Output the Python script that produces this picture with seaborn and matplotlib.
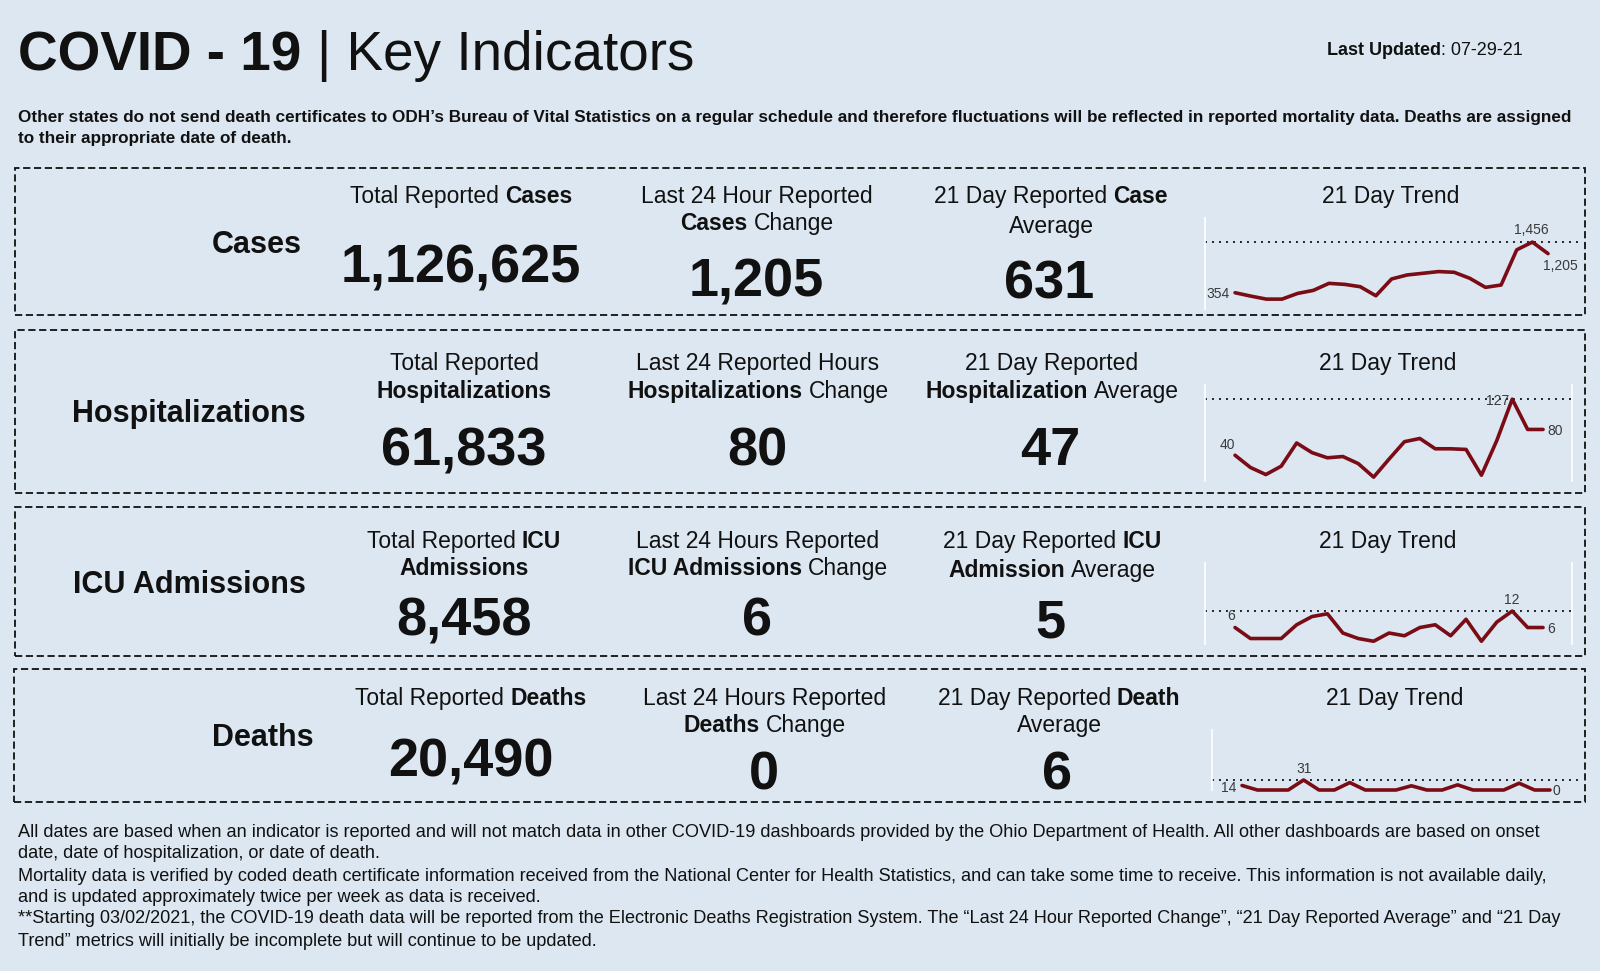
import matplotlib
matplotlib.use('Agg')
import matplotlib.pyplot as plt
import seaborn as sns
from matplotlib.patches import Rectangle

# Data (07-29-21)
indicators = ['Cases', 'Hospitalizations', 'ICU Admissions', 'Deaths']
totals = ['1,126,625', '61,833', '8,458', '20,490']
last_24h = ['1,205', '80', '6', '0']
avg_21d = ['631', '47', '5', '6']
days = list(range(1, 22))
cases_trend = [354, 281, 215, 215, 339, 405, 558, 536, 485, 288, 653, 741,
               777, 814, 799, 668, 471, 522, 1288, 1456, 1205]
hosp_trend = [40, 21, 10, 23, 59, 44, 36, 38, 27, 6, 34, 61, 66, 50, 50, 49,
              9, 63, 127, 80, 80]
icu_trend = [6, 2, 2, 2, 7, 10, 11, 4, 2, 1, 4, 3, 6, 7, 3, 9, 1, 8, 12, 6, 6]
deaths_trend = [14, 0, 0, 0, 31, 0, 0, 23, 0, 0, 0, 13, 0, 0, 16, 0, 0, 0, 21, 0, 0]

W, H = 1600, 971
BG = '#dce7f1'
TXT = '#111111'
LINE = '#7a0c16'

sns.set_style('white')
plt.rcParams['font.family'] = ['Liberation Sans', 'DejaVu Sans']

fig = plt.figure(figsize=(W / 100, H / 100), dpi=100, facecolor=BG)
renderer = fig.canvas.get_renderer()


def fpos(x, y):
    return x / W, 1 - y / H


def put(x, y, s, size, weight='normal', ha='left', color=TXT):
    # y is the visual middle of the glyphs; nudge down for the descender room
    y = y + 0.132 * size
    return fig.text(*fpos(x, y), s, fontsize=size, fontweight=weight, color=color,
                    ha=ha, va='center')


def rich(x, y, parts, size, ha='center', color=TXT):
    # parts: (text, weight); a leading space means "put a word gap before"
    objs, widths, gaps = [], [], []
    for s, w in parts:
        gap = 0
        if s.startswith(' '):
            s = s[1:]
            gap = 0.278 * size * 100 / 72
        t = put(0, 0, s, size, w, color=color)
        objs.append(t)
        widths.append(t.get_window_extent(renderer).width)
        gaps.append(gap)
    total = sum(widths) + sum(gaps)
    cur = x - total / 2 if ha == 'center' else x
    for t, wd, g in zip(objs, widths, gaps):
        cur += g
        t.set_position(fpos(cur, y + 0.132 * size))
        cur += wd


# Title
rich(18, 51, [('COVID - 19', 'bold'), (' | Key Indicators', 'normal')], 39.5, ha='left')
rich(1327, 49, [('Last Updated', 'bold'), (': 07-29-21', 'normal')], 13, ha='left')

sub = ['Other states do not send death certificates to ODH\u2019s Bureau of Vital Statistics on a regular schedule '
       'and therefore fluctuations will be reflected in reported mortality data. Deaths are assigned',
       'to their appropriate date of death.']
for i, s in enumerate(sub):
    put(18, 116 + i * 21, s, 12.3, 'bold')

# Dashed boxes
boxes = [(15, 168, 1585, 315), (15, 330, 1585, 493), (15, 507, 1585, 656), (14, 669, 1585, 802)]
for l, t, r, b in boxes:
    fig.patches.append(Rectangle(fpos(l, b), (r - l) / W, (b - t) / H, fill=False,
                                 ls=(0, (4, 2)), lw=1.3, ec='#111111',
                                 transform=fig.transFigure, figure=fig))

# Row labels
label_pos = [(257, 242), (189, 411), (189, 582), (263, 735)]
for name, (x, y) in zip(indicators, label_pos):
    put(x, y, name, 22, 'bold', ha='center')

HS = 16.5
# Column headers
headers = [
    [[('Total Reported', 'normal'), (' Cases', 'bold')]],
    [[('Total Reported', 'normal')], [('Hospitalizations', 'bold')]],
    [[('Total Reported', 'normal'), (' ICU', 'bold')], [('Admissions', 'bold')]],
    [[('Total Reported', 'normal'), (' Deaths', 'bold')]],
]
headers3 = [
    [[('Last 24 Hour Reported', 'normal')], [('Cases', 'bold'), (' Change', 'normal')]],
    [[('Last 24 Reported Hours', 'normal')], [('Hospitalizations', 'bold'), (' Change', 'normal')]],
    [[('Last 24 Hours Reported', 'normal')], [('ICU Admissions', 'bold'), (' Change', 'normal')]],
    [[('Last 24 Hours Reported', 'normal')], [('Deaths', 'bold'), (' Change', 'normal')]],
]
headers4 = [
    [[('21 Day Reported', 'normal'), (' Case', 'bold')], [('Average', 'normal')]],
    [[('21 Day Reported', 'normal')], [('Hospitalization', 'bold'), (' Average', 'normal')]],
    [[('21 Day Reported', 'normal'), (' ICU', 'bold')], [('Admission', 'bold'), (' Average', 'normal')]],
    [[('21 Day Reported', 'normal'), (' Death', 'bold')], [('Average', 'normal')]],
]
head_y = [(194, 221), (361, 389), (539, 566), (696, 723)]
col2_x = [461, 464, 464, 471]
col3_x = [757, 758, 758, 765]
col4_x = [1051, 1052, 1052, 1059]
col5_x = [1391, 1388, 1388, 1395]
num2_y = [263, 446, 616, 757]
num3_y = [277, 446, 616, 770]
num4_y = [279, 446, 618, 770]
line2_off4 = [3, 0, 2, 0]

for i in range(4):
    y1, y2 = head_y[i]
    for j, ln in enumerate(headers[i]):
        rich(col2_x[i], (y1, y2)[j], ln, HS)
    for j, ln in enumerate(headers3[i]):
        rich(col3_x[i], (y1, y2)[j], ln, HS)
    for j, ln in enumerate(headers4[i]):
        rich(col4_x[i], (y1, y2 + line2_off4[i])[j], ln, HS)
    rich(col5_x[i], y1, [('21 Day Trend', 'normal')], HS)
    put(col2_x[i], num2_y[i], totals[i], 39, 'bold', ha='center')
    put(col3_x[i] - 1, num3_y[i], last_24h[i], 39, 'bold', ha='center')
    put(col4_x[i] - 2, num4_y[i], avg_21d[i], 39, 'bold', ha='center')

# Sparklines: (left, top, right, bottom) px, xlim, ylim, right line, label offsets (px)
trends = [cases_trend, hosp_trend, icu_trend, deaths_trend]
fmt = ['{:,}', '{}', '{}', '{}']
spark_box = [(1205, 218, 1582, 309), (1205, 385, 1572, 481), (1205, 563, 1572, 644), (1212, 730, 1582, 790)]
spark_xlim = [(-0.92, 23.17), (-0.95, 22.88), (-0.95, 22.88), (-0.95, 23.08)]
spark_ylim = [(0, 1980), (0, 149), (0, 29.5), (0, 186)]
spark_right = [False, True, True, False]
# (ha, dx, dy) for first, max, last labels
spark_lbl = [
    [('right', -5, 0), ('center', -1, 13), ('center', 12, -11)],
    [('center', -8, 12), ('right', -3, 0), ('left', 4, 0)],
    [('center', -4, 13), ('center', 0, 12), ('left', 4, 0)],
    [('right', -6, -1), ('center', 0, 12), ('left', 3, 0)],
]

for i in range(4):
    l, t, r, b = spark_box[i]
    ax = fig.add_axes([l / W, 1 - b / H, (r - l) / W, (b - t) / H])
    ax.set_facecolor('none')
    vals = trends[i]
    ax.axhline(max(vals), ls=(0, (1, 2.6)), color='#222222', lw=1.4, zorder=1)
    sns.lineplot(x=days, y=vals, ax=ax, color=LINE, lw=2.6, clip_on=False, zorder=3)
    ax.set_xlim(*spark_xlim[i])
    ax.set_ylim(*spark_ylim[i])
    ax.set_xticks([])
    ax.set_yticks([])
    ax.set_xlabel('')
    ax.set_ylabel('')
    for side in ['top', 'bottom', 'right', 'left']:
        ax.spines[side].set_visible(False)
    ax.spines['left'].set_visible(True)
    ax.spines['left'].set_color('white')
    ax.spines['left'].set_linewidth(1.2)
    if spark_right[i]:
        ax.spines['right'].set_visible(True)
        ax.spines['right'].set_color('white')
        ax.spines['right'].set_linewidth(1.2)
    imax = vals.index(max(vals))
    for k, idx in enumerate([0, imax, len(vals) - 1]):
        ha, dx, dy = spark_lbl[i][k]
        ax.annotate(fmt[i].format(vals[idx]), (days[idx], vals[idx]),
                    xytext=(dx * 0.72, dy * 0.72 - 1.0), textcoords='offset points',
                    ha=ha, va='center', fontsize=10, color='#3a3a3a',
                    annotation_clip=False, zorder=4)

# Footer notes
foot = [
    'All dates are based when an indicator is reported and will not match data in other COVID-19 dashboards '
    'provided by the Ohio Department of Health. All other dashboards are based on onset',
    'date, date of hospitalization, or date of death.',
    'Mortality data is verified by coded death certificate information received from the National Center for '
    'Health Statistics, and can take some time to receive. This information is not available daily,',
    'and is updated approximately twice per week as data is received.',
    '**Starting 03/02/2021, the COVID-19 death data will be reported from the Electronic Deaths Registration '
    'System. The \u201cLast 24 Hour Reported Change\u201d, \u201c21 Day Reported Average\u201d and \u201c21 Day',
    'Trend\u201d metrics will initially be incomplete but will continue to be updated.',
]
foot_y = [831, 852, 875, 896, 917, 940]
for s, y in zip(foot, foot_y):
    put(18, y, s, 13.1)

fig.savefig('out.png', dpi=100, facecolor=BG)
